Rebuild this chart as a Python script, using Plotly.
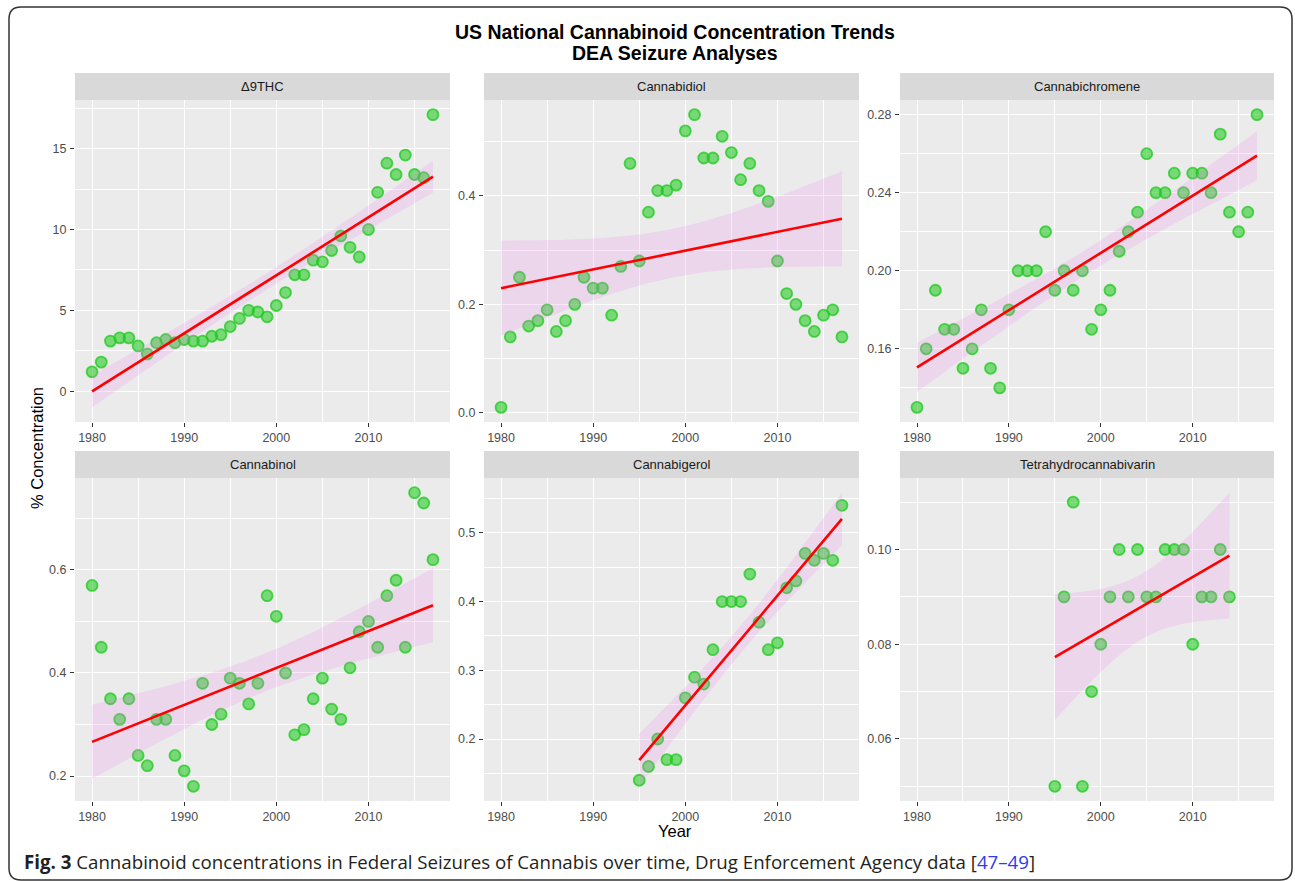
import numpy as np
import plotly.graph_objects as go

W, H = 1295, 881

# ---------------- data ----------------
years_full = list(range(1980, 2018))
years_cbg = list(range(1995, 2018))
years_thcv = list(range(1995, 2015))

thc = [1.2, 1.8, 3.1, 3.3, 3.3, 2.8, 2.3, 3.0, 3.2, 3.0,
       3.2, 3.1, 3.1, 3.4, 3.5, 4.0, 4.5, 5.0, 4.9, 4.6,
       5.3, 6.1, 7.2, 7.2, 8.1, 8.0, 8.7, 9.6, 8.9, 8.3,
       10.0, 12.3, 14.1, 13.4, 14.6, 13.4, 13.2, 17.1]
cbd = [0.01, 0.14, 0.25, 0.16, 0.17, 0.19, 0.15, 0.17, 0.20, 0.25,
       0.23, 0.23, 0.18, 0.27, 0.46, 0.28, 0.37, 0.41, 0.41, 0.42,
       0.52, 0.55, 0.47, 0.47, 0.51, 0.48, 0.43, 0.46, 0.41, 0.39,
       0.28, 0.22, 0.20, 0.17, 0.15, 0.18, 0.19, 0.14]
cbc = [0.13, 0.16, 0.19, 0.17, 0.17, 0.15, 0.16, 0.18, 0.15, 0.14,
       0.18, 0.20, 0.20, 0.20, 0.22, 0.19, 0.20, 0.19, 0.20, 0.17,
       0.18, 0.19, 0.21, 0.22, 0.23, 0.26, 0.24, 0.24, 0.25, 0.24,
       0.25, 0.25, 0.24, 0.27, 0.23, 0.22, 0.23, 0.28]
cbn = [0.57, 0.45, 0.35, 0.31, 0.35, 0.24, 0.22, 0.31, 0.31, 0.24,
       0.21, 0.18, 0.38, 0.30, 0.32, 0.39, 0.38, 0.34, 0.38, 0.55,
       0.51, 0.40, 0.28, 0.29, 0.35, 0.39, 0.33, 0.31, 0.41, 0.48,
       0.50, 0.45, 0.55, 0.58, 0.45, 0.75, 0.73, 0.62]
cbg = [0.14, 0.16, 0.20, 0.17, 0.17, 0.26, 0.29, 0.28, 0.33, 0.40,
       0.40, 0.40, 0.44, 0.37, 0.33, 0.34, 0.42, 0.43, 0.47, 0.46,
       0.47, 0.46, 0.54]
thcv = [0.05, 0.09, 0.11, 0.05, 0.07, 0.08, 0.09, 0.10, 0.09, 0.10,
        0.09, 0.09, 0.10, 0.10, 0.10, 0.08, 0.09, 0.09, 0.10, 0.09]

panel_titles = ["Δ9THC", "Cannabidiol", "Cannabichromene",
                "Cannabinol", "Cannabigerol", "Tetrahydrocannabivarin"]
panel_x = [years_full, years_full, years_full, years_full, years_cbg, years_thcv]
panel_y = [thc, cbd, cbc, cbn, cbg, thcv]

# axis tick settings: (tick0, dtick, minor tick0, format)
ytick_cfg = [
    (0, 5, 2.5, "d"),
    (0, 0.2, 0.1, ".1f"),
    (0.16, 0.04, 0.14, ".2f"),
    (0, 0.2, 0.1, ".1f"),
    (0, 0.1, 0.05, ".1f"),
    (0.06, 0.02, 0.05, ".2f"),
]


# ---------------- helpers ----------------
def t975(df):
    z = 1.959964
    g1 = (z**3 + z) / 4
    g2 = (5*z**5 + 16*z**3 + 3*z) / 96
    g3 = (3*z**7 + 19*z**5 + 17*z**3 - 15*z) / 384
    g4 = (79*z**9 + 776*z**7 + 1482*z**5 - 1920*z**3 - 945*z) / 92160
    return z + g1/df + g2/df**2 + g3/df**3 + g4/df**4


def lm_fit(x, y):
    x = np.asarray(x, float)
    y = np.asarray(y, float)
    n = len(x)
    b, a = np.polyfit(x, y, 1)
    xs = np.linspace(x.min(), x.max(), 80)
    yh = a + b * xs
    res = y - (a + b * x)
    s = np.sqrt(res @ res / (n - 2))
    se = s * np.sqrt(1 / n + (xs - x.mean())**2 / ((x - x.mean())**2).sum())
    t = t975(n - 2)
    return xs, yh, yh - t * se, yh + t * se


def px(x):
    return x / W


def py(y):
    return 1 - y / H


# panel geometry (pixels)
cols = [(75, 450), (484, 859), (900, 1274)]
rows = [((73, 100), (100, 422)), ((451, 478), (478, 801))]

fig = go.Figure()
shapes = []
annotations = []

all_years = years_full
xr0 = min(all_years) - 0.05 * (max(all_years) - min(all_years))
xr1 = max(all_years) + 0.05 * (max(all_years) - min(all_years))

font_family = "Liberation Sans, Arial, sans-serif"

for i in range(6):
    r, c = divmod(i, 3)
    (sy0, sy1), (py0, py1) = rows[r]
    cx0, cx1 = cols[c]
    ax = "" if i == 0 else str(i + 1)
    xs, yh, lo, hi = lm_fit(panel_x[i], panel_y[i])

    fig.add_trace(go.Scatter(
        x=panel_x[i], y=panel_y[i], mode="markers",
        marker=dict(size=11, color="rgba(40,205,40,0.6)",
                    line=dict(color="rgba(30,200,30,0.75)", width=1.8)),
        xaxis="x" + ax, yaxis="y" + ax, showlegend=False, hoverinfo="x+y"))
    fig.add_trace(go.Scatter(
        x=list(xs) + list(xs[::-1]), y=list(hi) + list(lo[::-1]),
        fill="toself", fillcolor="rgba(238,130,238,0.2)",
        line=dict(width=0), mode="lines",
        xaxis="x" + ax, yaxis="y" + ax, showlegend=False, hoverinfo="skip"))
    fig.add_trace(go.Scatter(
        x=xs, y=yh, mode="lines", line=dict(color="#FF0000", width=2.6),
        xaxis="x" + ax, yaxis="y" + ax, showlegend=False, hoverinfo="skip"))

    ymin = min(min(panel_y[i]), lo.min())
    ymax = max(max(panel_y[i]), hi.max())
    ex = 0.05 * (ymax - ymin)
    t0, dt, mt0, fmt = ytick_cfg[i]

    common = dict(showline=False, zeroline=False, ticks="outside", ticklen=4,
                  tickwidth=1.1, tickcolor="#333333", showgrid=True,
                  gridcolor="#FFFFFF", gridwidth=1.1,
                  tickfont=dict(family=font_family, size=12.5, color="#4D4D4D"))
    fig.layout["xaxis" + ax] = dict(
        domain=[px(cx0), px(cx1)], anchor="y" + ax, range=[xr0, xr1],
        tickmode="linear", tick0=1980, dtick=10,
        minor=dict(tickmode="linear", tick0=1985, dtick=10, showgrid=True,
                   gridcolor="#FFFFFF", gridwidth=0.55, ticks=""),
        ticklabelstandoff=0, **common)
    fig.layout["yaxis" + ax] = dict(
        domain=[py(py1), py(py0)], anchor="x" + ax,
        range=[ymin - ex, ymax + ex],
        tickmode="linear", tick0=t0, dtick=dt, tickformat=fmt,
        minor=dict(tickmode="linear", tick0=mt0, dtick=dt, showgrid=True,
                   gridcolor="#FFFFFF", gridwidth=0.55, ticks=""),
        ticklabelstandoff=1, **common)

    shapes.append(dict(type="rect", xref="paper", yref="paper",
                       x0=px(cx0), x1=px(cx1), y0=py(sy1), y1=py(sy0),
                       fillcolor="#D9D9D9", line=dict(width=0), layer="below"))
    annotations.append(dict(text=panel_titles[i], xref="paper", yref="paper",
                            x=px((cx0 + cx1) / 2), y=py((sy0 + sy1) / 2),
                            xanchor="center", yanchor="middle", showarrow=False,
                            font=dict(family=font_family, size=13, color="#1A1A1A")))

# outer rounded border
x0, x1, y0, y1, rr = 9, 1292, 7, 880, 12
path = (f"M {px(x0)},{py(y0 + rr)} Q {px(x0)},{py(y0)} {px(x0 + rr)},{py(y0)} "
        f"L {px(x1 - rr)},{py(y0)} Q {px(x1)},{py(y0)} {px(x1)},{py(y0 + rr)} "
        f"L {px(x1)},{py(y1 - rr)} Q {px(x1)},{py(y1)} {px(x1 - rr)},{py(y1)} "
        f"L {px(x0 + rr)},{py(y1)} Q {px(x0)},{py(y1)} {px(x0)},{py(y1 - rr)} Z")
shapes.append(dict(type="path", xref="paper", yref="paper", path=path,
                   line=dict(color="#333333", width=1.5)))

title_font = dict(family=font_family, size=19.5, color="#000000")
annotations += [
    dict(text="<b>US National Cannabinoid Concentration Trends</b>",
         xref="paper", yref="paper", x=px(674.5), y=py(32), xanchor="center",
         yanchor="middle", showarrow=False, font=title_font),
    dict(text="<b>DEA Seizure Analyses</b>",
         xref="paper", yref="paper", x=px(674.5), y=py(53), xanchor="center",
         yanchor="middle", showarrow=False, font=title_font),
    dict(text="% Concentration", xref="paper", yref="paper", x=px(37), y=py(448),
         xanchor="center", yanchor="middle", textangle=-90, showarrow=False,
         font=dict(family=font_family, size=16.5, color="#000000")),
    dict(text="Year", xref="paper", yref="paper", x=px(674.5), y=py(831),
         xanchor="center", yanchor="middle", showarrow=False,
         font=dict(family=font_family, size=16.5, color="#000000")),
    dict(text="<b>Fig. 3</b> Cannabinoid concentrations in Federal Seizures of Cannabis over time, "
              "Drug Enforcement Agency data [<span style='color:#2E3BE8'>47–49</span>]",
         xref="paper", yref="paper", x=px(22), y=py(861), xanchor="left",
         yanchor="middle", showarrow=False,
         font=dict(family="Open Sans, sans-serif", size=18.7, color="#231F20")),
]

fig.update_layout(
    width=W, height=H, margin=dict(l=0, r=0, t=0, b=0),
    paper_bgcolor="#FFFFFF", plot_bgcolor="#EBEBEB",
    shapes=shapes, annotations=annotations, showlegend=False,
)

fig.write_html("out.html")
